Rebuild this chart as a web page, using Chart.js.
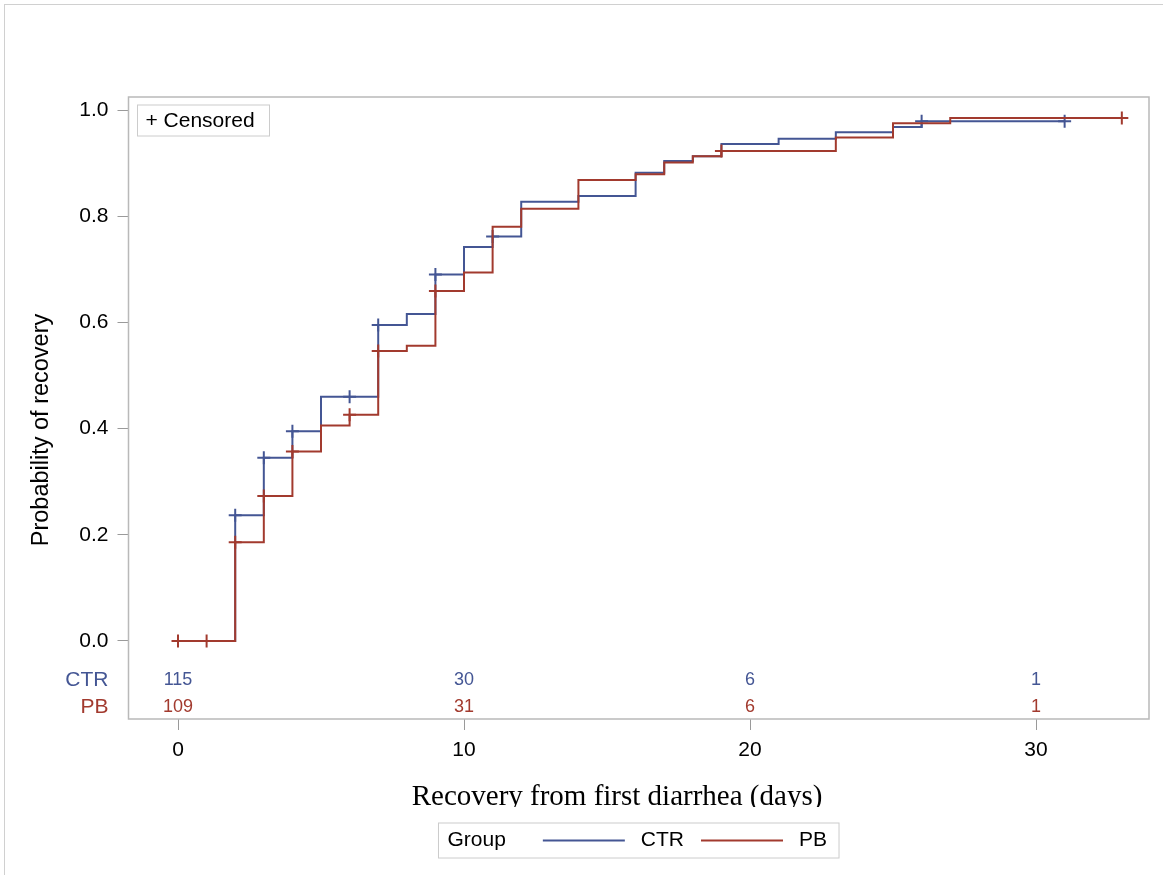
<!DOCTYPE html>
<html>
<head>
<meta charset="utf-8">
<script src="https://cdn.jsdelivr.net/npm/chart.js@4.4.1/dist/chart.umd.min.js"></script>
<style>
  html, body { margin: 0; padding: 0; background: #fff; }
  #wrap { position: relative; width: 1163px; height: 875px; overflow: hidden; }
  #frame { position: absolute; left: 4px; top: 4px; width: 1200px; height: 900px; border: 1px solid #d0d0d0; }
  canvas { position: absolute; left: 0; top: 0; }
</style>
</head>
<body>
<div id="wrap">
  <div id="frame"></div>
  <canvas id="kmChart" width="1163" height="875"></canvas>
</div>
<script>
// Kaplan-Meier recovery curves (step values)
const ctrTimes = [0, 2, 3, 4, 5, 7, 8, 9, 10, 11, 12, 14, 16, 17, 18, 19, 21, 23, 25, 26, 31];
const ctrSurv = [0, 0.237, 0.345, 0.395, 0.46, 0.595, 0.616, 0.69, 0.742, 0.762, 0.827, 0.838, 0.882, 0.904, 0.913, 0.936, 0.946, 0.958, 0.968, 0.979, 0.979];
const ctrCensTimes = [2, 3, 4, 6, 7, 9, 11, 26, 31];
const ctrCensSurv = [0.237, 0.345, 0.395, 0.46, 0.595, 0.69, 0.762, 0.979, 0.979];

const pbTimes = [0, 2, 3, 4, 5, 6, 7, 8, 9, 10, 11, 12, 14, 16, 17, 18, 19, 23, 25, 27, 33];
const pbSurv = [0, 0.186, 0.273, 0.357, 0.406, 0.426, 0.546, 0.556, 0.659, 0.694, 0.78, 0.814, 0.868, 0.879, 0.901, 0.913, 0.923, 0.948, 0.975, 0.985, 0.985];
const pbCensTimes = [0, 1, 2, 3, 4, 6, 7, 9, 19, 33];
const pbCensSurv = [0, 0, 0.186, 0.273, 0.357, 0.426, 0.546, 0.659, 0.923, 0.985];

const xTicks = [0, 10, 20, 30];
const yTicks = [0, 0.2, 0.4, 0.6, 0.8, 1.0];

// numbers at risk
const riskTimes = [0, 10, 20, 30];
const riskCTR = [115, 30, 6, 1];
const riskPB = [109, 31, 6, 1];

const groups = ["CTR", "PB"];
const blue = "#445694";
const red = "#A23A2E";
const sans = "'Liberation Sans', Arial, sans-serif";
const serif = "'Liberation Serif', 'Times New Roman', serif";

const pts = (xs, ys) => xs.map((x, i) => ({ x: x, y: ys[i] }));

const kmExtras = {
  id: "kmExtras",
  afterDraw(chart) {
    const ctx = chart.ctx;
    const a = chart.chartArea;
    const xs = chart.scales.x;
    ctx.save();

    // plot frame
    ctx.strokeStyle = "#b9b9b9";
    ctx.lineWidth = 1.5;
    ctx.strokeRect(a.left, a.top, a.right - a.left, a.bottom - a.top);

    // censored inset legend
    ctx.strokeStyle = "#cccccc";
    ctx.lineWidth = 1;
    ctx.strokeRect(a.left + 9, a.top + 8, 132, 31);
    ctx.fillStyle = "#000";
    ctx.font = "21px " + sans;
    ctx.textAlign = "left";
    ctx.textBaseline = "middle";
    ctx.fillText("+ Censored", a.left + 17, a.top + 24);

    // at-risk table
    const rows = [
      { name: groups[0], vals: riskCTR, color: blue, y: a.bottom - 39 },
      { name: groups[1], vals: riskPB, color: red, y: a.bottom - 12 },
    ];
    rows.forEach((r) => {
      ctx.fillStyle = r.color;
      ctx.font = "21px " + sans;
      ctx.textAlign = "right";
      ctx.fillText(r.name, a.left - 20, r.y);
      ctx.font = "18px " + sans;
      ctx.textAlign = "center";
      riskTimes.forEach((t, i) => {
        ctx.fillText(String(r.vals[i]), xs.getPixelForValue(t), r.y);
      });
    });

    // y axis title
    ctx.save();
    ctx.translate(42, 430);
    ctx.rotate(-Math.PI / 2);
    ctx.fillStyle = "#000";
    ctx.font = "23.5px " + sans;
    ctx.textAlign = "center";
    ctx.fillText("Probability of recovery", 0, 0);
    ctx.restore();

    // x axis title, cut off at the bottom like the original
    ctx.save();
    ctx.beginPath();
    ctx.rect(0, 0, chart.width, 807);
    ctx.clip();
    ctx.fillStyle = "#000";
    ctx.font = "29px " + serif;
    ctx.textAlign = "center";
    ctx.textBaseline = "alphabetic";
    ctx.fillText("Recovery from first diarrhea (days)", 617, 805);
    ctx.restore();

    // group legend
    ctx.font = "21px " + sans;
    ctx.textBaseline = "middle";
    ctx.textAlign = "left";
    const lineLen = 82;
    const gW = ctx.measureText("Group").width;
    const w0 = ctx.measureText(groups[0]).width;
    const w1 = ctx.measureText(groups[1]).width;
    const total = 9 + gW + 37 + lineLen + 16 + w0 + 17 + lineLen + 16 + w1 + 12;
    const bx = (a.left + a.right) / 2 - total / 2;
    const by = 823, bh = 35, cy = by + bh / 2;
    ctx.strokeStyle = "#cccccc";
    ctx.lineWidth = 1;
    ctx.strokeRect(bx, by, total, bh);
    let cx = bx + 9;
    ctx.fillStyle = "#000";
    ctx.fillText("Group", cx, cy);
    cx += gW + 37;
    [[groups[0], blue, w0], [groups[1], red, w1]].forEach((g) => {
      ctx.strokeStyle = g[1];
      ctx.lineWidth = 2;
      ctx.beginPath();
      ctx.moveTo(cx, cy);
      ctx.lineTo(cx + lineLen, cy);
      ctx.stroke();
      cx += lineLen + 16;
      ctx.fillStyle = "#000";
      ctx.fillText(g[0], cx, cy);
      cx += g[2] + 17;
    });

    ctx.restore();
  },
};

const ctx = document.getElementById("kmChart").getContext("2d");

new Chart(ctx, {
  type: "line",
  data: {
    datasets: [
      {
        label: "PB",
        data: pts(pbTimes, pbSurv),
        borderColor: red,
        borderWidth: 2,
        stepped: true,
        pointRadius: 0,
        fill: false,
        order: 0,
      },
      {
        label: "PB censored",
        data: pts(pbCensTimes, pbCensSurv),
        showLine: false,
        pointStyle: "cross",
        pointRadius: 6.5,
        pointBorderColor: red,
        pointBorderWidth: 2,
        order: 0,
      },
      {
        label: "CTR",
        data: pts(ctrTimes, ctrSurv),
        borderColor: blue,
        borderWidth: 2,
        stepped: true,
        pointRadius: 0,
        fill: false,
        order: 1,
      },
      {
        label: "CTR censored",
        data: pts(ctrCensTimes, ctrCensSurv),
        showLine: false,
        pointStyle: "cross",
        pointRadius: 6.5,
        pointBorderColor: blue,
        pointBorderWidth: 2,
        order: 1,
      },
    ],
  },
  options: {
    responsive: false,
    animation: false,
    devicePixelRatio: 1,
    layout: {
      padding: { top: 97, right: 14, left: 0, bottom: 0 },
    },
    plugins: {
      legend: { display: false },
      tooltip: { enabled: false },
    },
    scales: {
      x: {
        type: "linear",
        min: -1.731,
        max: 33.95,
        afterBuildTicks: (s) => {
          s.ticks = xTicks.map((v) => ({ value: v }));
        },
        afterFit: (s) => {
          s.height = 156;
        },
        grid: {
          drawOnChartArea: false,
          drawTicks: true,
          tickLength: 11,
          color: "#9a9a9a",
        },
        border: { display: false },
        ticks: {
          color: "#000",
          font: { family: sans, size: 21 },
          padding: 8,
          maxRotation: 0,
          callback: (v) => String(v),
        },
      },
      y: {
        min: -0.1469,
        max: 1.0245,
        afterBuildTicks: (s) => {
          s.ticks = yTicks.map((v) => ({ value: v }));
        },
        afterFit: (s) => {
          s.width = 128.5;
        },
        grid: {
          drawOnChartArea: false,
          drawTicks: true,
          tickLength: 11,
          color: "#9a9a9a",
        },
        border: { display: false },
        ticks: {
          color: "#000",
          font: { family: sans, size: 21 },
          padding: 9,
          callback: (v) => v.toFixed(1),
        },
      },
    },
  },
  plugins: [kmExtras],
});
</script>
</body>
</html>
